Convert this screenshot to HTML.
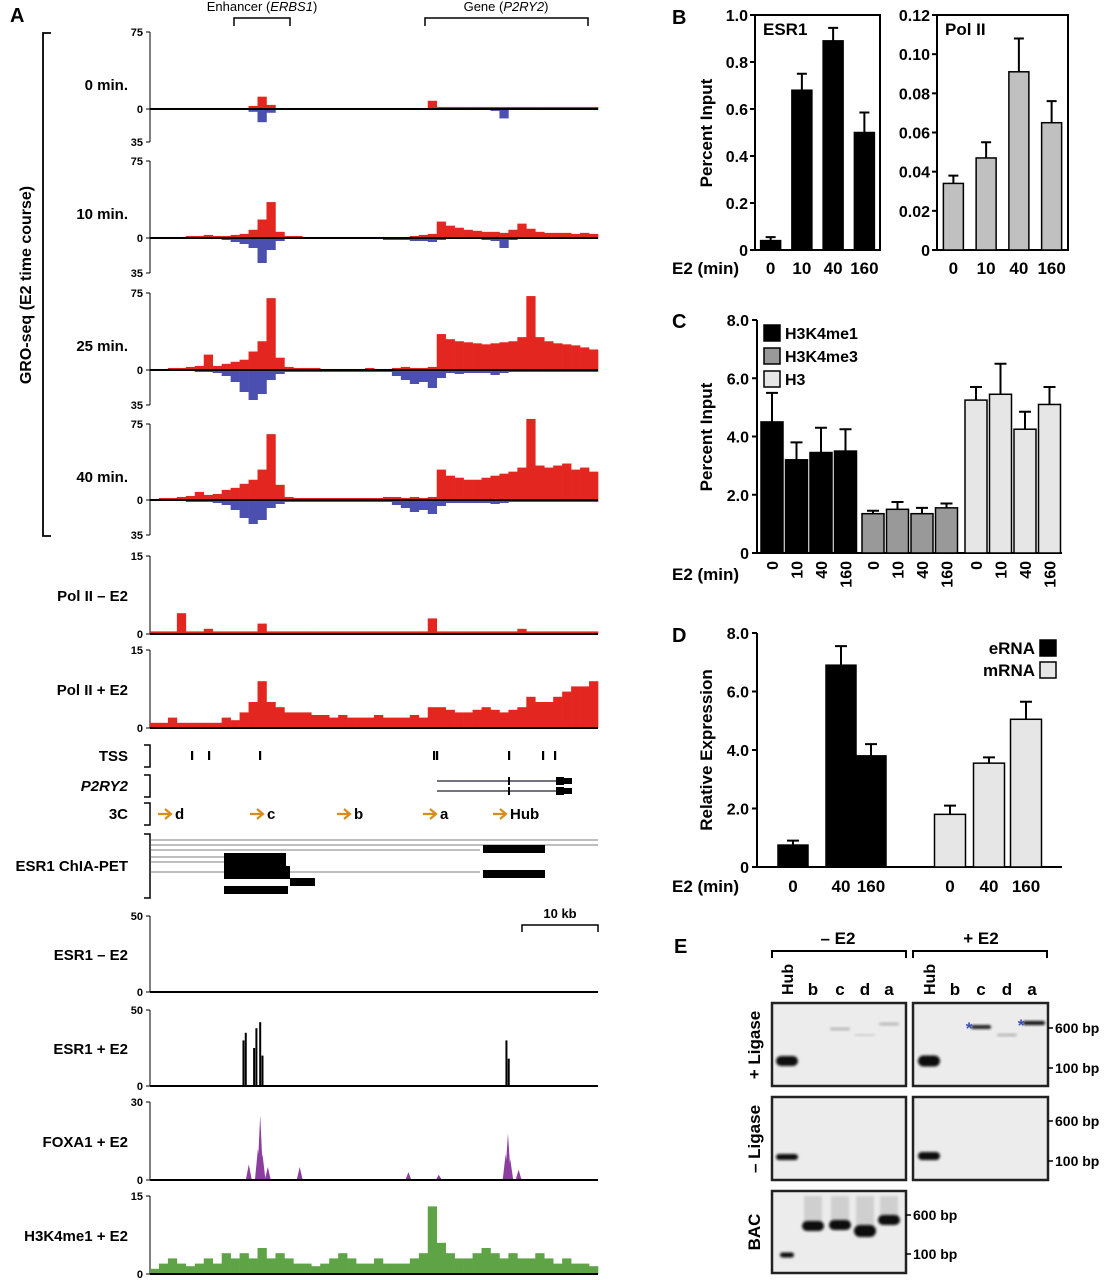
<!DOCTYPE html>
<html><head><meta charset="utf-8"><style>
body{margin:0;background:#fff}
svg{display:block;font-family:"Liberation Sans",Arial,sans-serif;font-weight:bold}
</style></head><body>
<svg id="fig" width="1104" height="1280" viewBox="0 0 1104 1280" xmlns="http://www.w3.org/2000/svg">
<defs><filter id="blur" x="-20%" y="-50%" width="140%" height="200%"><feGaussianBlur stdDeviation="1.2"/></filter></defs>
<g id="A"></g>
<g id="B"></g>
<g id="C"></g>
<g id="D"></g>
<g id="E"></g>
</svg>
<script>
// ---------- Panel A data (binned signal, 50 bins across locus) ----------
const gro0Pos=[1,1,1,1,1,1,1,1,1,1,1,3,12,4,1,1,1,1,1,1,1,1,1,1,1,1,1,1,1,1,1,8,2,2,2,2,2,2,2,2,2,2,2,2,2,2,2,2,2,2];
const gro0Neg=[0,0,0,0,0,0,0,0,0,0,0,3,14,4,0,0,0,0,0,0,0,0,0,0,0,0,0,0,0,0,0,1,1,1,1,1,1,1,2,10,1,1,1,1,1,1,1,1,1,1];
const gro10Pos=[1,1,1,1,2,2,3,2,2,3,4,8,18,35,6,2,2,1,1,1,1,1,1,1,1,1,1,1,1,2,3,4,16,12,10,8,7,6,6,5,8,14,9,6,5,5,5,4,5,4];
const gro10Neg=[0,0,0,1,1,1,1,1,2,4,6,10,25,12,3,1,1,1,1,1,1,1,1,1,1,1,2,2,2,3,3,4,2,1,1,1,1,2,3,10,2,1,1,1,1,1,1,1,1,1];
const gro25Pos=[1,1,2,2,3,4,15,4,6,8,10,18,28,70,12,3,2,2,2,1,1,1,1,1,2,1,1,2,3,2,2,3,35,30,28,27,26,25,26,27,28,32,72,32,28,26,25,24,22,20];
const gro25Neg=[1,1,1,1,1,2,2,3,6,12,22,30,24,10,4,2,2,2,2,2,2,2,2,2,2,2,2,6,10,14,12,18,8,3,4,3,3,3,5,3,2,2,2,2,2,2,2,2,2,2];
const gro40Pos=[1,2,2,3,4,8,5,6,10,12,16,20,30,65,15,3,2,2,2,2,2,2,2,2,2,2,3,3,2,3,2,3,30,24,22,20,20,22,24,26,28,32,80,34,32,34,36,30,32,28];
const gro40Neg=[1,1,1,1,2,2,2,3,5,10,18,24,20,8,4,2,2,2,2,2,2,2,2,2,2,2,2,5,8,12,10,14,6,3,3,3,3,3,4,3,2,2,2,2,2,2,2,2,2,2];
const polMinus=[0.5,0.5,0.5,4,0.5,0.5,1,0.5,0.5,0.5,0.5,0.5,2,0.5,0.5,0.5,0.5,0.5,0.5,0.5,0.5,0.5,0.5,0.5,0.5,0.5,0.5,0.5,0.5,0.5,0.5,3,0.5,0.5,0.5,0.5,0.5,0.5,0.5,0.5,0.5,1,0.5,0.5,0.5,0.5,0.5,0.5,0.5,0.5];
const polPlus=[1,1,2,1,1,1,1,1,2,1.5,3,5,9,5,4,3,3,3,2.5,2.5,2,2.5,2,2,2,2.5,2,2,2,2.5,2,4,4,3.5,3,3,3.5,4,3.5,3,3.5,4,6,5,5,6,7,8,8,9];
const h3k4Plus=[1,2,3,2,1.5,2,3,2,4,3,4,3,5,3,4,3,2,2,1.5,2,3,4,3,2,2,3,2,2,2,3,4,13,6,4,3,3,4,5,4,3,4,3,3,4,3,2,3,2,2,1.5];
const esr1MinusBins=[0.3,0.3,0.3,0.3,0.3,0.3,0.3,0.3,0.3,0.3,0.3,0.3,0.5,0.3,0.3,0.3,0.3,0.3,0.3,0.3,0.3,0.3,0.3,0.3,0.3,0.3,0.3,0.3,0.3,0.3,0.3,0.3,0.3,0.3,0.3,0.3,0.3,0.3,0.3,0.3,0.3,0.3,0.3,0.3,0.3,0.3,0.3,0.3,0.5,0.3];
// peak tracks: positions in kb, heights in track units
const esr1PeakKb=[12.3,12.6,13.7,14.0,14.5,14.8,46.9,47.2];
const esr1PeakVal=[30,35,25,38,42,20,30,18];
const foxaPeakKb=[13.0,14.2,14.5,14.8,15.5,19.7,34.0,38.0,46.8,47.1,47.4,48.5];
const foxaPeakVal=[6,12,25,10,5,5,3,2,10,18,8,4];
// ---------- Panel B ----------
const bCats=["0","10","40","160"];
const esr1Vals=[0.04,0.68,0.89,0.50];
const esr1Err=[0.015,0.07,0.055,0.085];
const polVals=[0.034,0.047,0.091,0.065];
const polErr=[0.004,0.008,0.017,0.011];
const esr1Ticks=["0","0.2","0.4","0.6","0.8","1.0"];
const polTicks=["0","0.02","0.04","0.06","0.08","0.10","0.12"];
// ---------- Panel C ----------
const cCats=["0","10","40","160"];
const cSeries=["H3K4me1","H3K4me3","H3"];
const h3k4me1Vals=[4.5,3.2,3.45,3.5];
const h3k4me1Err=[1.0,0.6,0.85,0.75];
const h3k4me3Vals=[1.35,1.5,1.35,1.55];
const h3k4me3Err=[0.1,0.25,0.2,0.15];
const h3Vals=[5.25,5.45,4.25,5.1];
const h3Err=[0.45,1.05,0.6,0.6];
const cdTicks=["0","2.0","4.0","6.0","8.0"];
// ---------- Panel D ----------
const dCats=["0","40","160"];
const ernaVals=[0.75,6.9,3.8];
const ernaErr=[0.15,0.65,0.4];
const mrnaVals=[1.8,3.55,5.05];
const mrnaErr=[0.3,0.2,0.6];

const NS="http://www.w3.org/2000/svg";
function mk(parent,tag,attrs,text){const e=document.createElementNS(NS,tag);for(const k in attrs)e.setAttribute(k,attrs[k]);if(text!==undefined)e.textContent=text;parent.appendChild(e);return e;}

// ================= Panel A =================
const A=document.getElementById('A');
const GX0=150,GX1=598,KB=7.6;
const gx=kb=>GX0+kb*KB;
let t;
t=mk(A,'text',{x:10,y:22,'font-size':20},'A');


t=mk(A,'text',{x:262,y:11,'font-size':13,'text-anchor':'middle','font-weight':'normal'},'');
t.innerHTML='Enhancer (<tspan font-style="italic">ERBS1</tspan>)';


t=mk(A,'path',{d:'M234 26V18H290V26',fill:'none',stroke:'#000','stroke-width':1.5});
t=mk(A,'text',{x:506,y:11,'font-size':13,'text-anchor':'middle','font-weight':'normal'},'');
t.innerHTML='Gene (<tspan font-style="italic">P2RY2</tspan>)';


mk(A,'path',{d:'M425 26V18H588V26',fill:'none',stroke:'#000','stroke-width':1.5});
mk(A,'path',{d:'M51 33H43V536H51',fill:'none',stroke:'#000','stroke-width':1.8});
t=mk(A,'text',{x:0,y:0,'font-size':16,'text-anchor':'middle',transform:'translate(31,285) rotate(-90)'},'GRO-seq (E2 time course)');



function axisTrack(label,top,base,bottom,maxTop,maxBot,labelY){
  mk(A,'line',{x1:GX0,y1:top,x2:GX0,y2:bottom,stroke:'#000','stroke-width':1});
  const ticks=[[top,maxTop],[base,'0']];
  if(maxBot!==null)ticks.push([bottom,maxBot]);
  ticks.forEach(([y,v])=>{mk(A,'line',{x1:GX0-4,y1:y,x2:GX0,y2:y,stroke:'#000'});mk(A,'text',{x:GX0-7,y:y+4,'font-size':11,'text-anchor':'end'},v);});
  const l=mk(A,'text',{x:128,y:labelY,'font-size':15,'text-anchor':'end'},label);
  
  
}
function binTrack(vals,max,base,h,dir,color){
  const bw=(GX1-GX0)/vals.length;
  vals.forEach((v,i)=>{
    const hh=v/max*h;
    const r=mk(A,'rect',{x:GX0+i*bw,y:dir>0?base-hh:base,width:bw+0.3,height:hh,fill:color});
    
    
  });
}
function baseline(y){mk(A,'line',{x1:GX0,y1:y,x2:GX1,y2:y,stroke:'#000','stroke-width':2});}

const RED='#e3261f',BLUE='#4b4fb0';
const gro=[["0 min.",32,109,142,gro0Pos,gro0Neg,90],["10 min.",161,238,273,gro10Pos,gro10Neg,219],["25 min.",293,370,405,gro25Pos,gro25Neg,351],["40 min.",424,500,535,gro40Pos,gro40Neg,482]];
gro.forEach(([lab,top,base,bot,pos,neg,ly])=>{
  axisTrack(lab,top,base,bot,'75','35',ly);
  binTrack(pos,75,base,base-top,1,RED);
  binTrack(neg,35,base,bot-base,-1,BLUE);
  baseline(base);
});
axisTrack('Pol II – E2',556,634,634,'15',null,601);
binTrack(polMinus,15,634,78,1,RED);baseline(634);
axisTrack('Pol II + E2',650,728,728,'15',null,695);
binTrack(polPlus,15,728,78,1,RED);baseline(728);

function bracket(y1,y2){mk(A,'path',{d:`M144 ${y1}H150V${y2}H144`,fill:'none',stroke:'#000','stroke-width':1.5});}
[['TSS',745,767,761],['P2RY2',775,797,791],['3C',803,825,819],['ESR1 ChIA-PET',834,898,871]].forEach(([l,a,b,ly])=>{
  bracket(a,b);
  const e=mk(A,'text',{x:128,y:ly,'font-size':15,'text-anchor':'end','font-style':l==='P2RY2'?'italic':'normal'},l);
  
  
});
[192,209,260,434,437,509,543,555].forEach(x=>mk(A,'rect',{x:x-1,y:751,width:2.2,height:9,fill:'#000'}));
[781,791].forEach(y=>{mk(A,'line',{x1:437,y1:y,x2:560,y2:y,stroke:'#223','stroke-width':1.2});mk(A,'rect',{x:556,y:y-4,width:8,height:8,fill:'#000'});mk(A,'rect',{x:564,y:y-3,width:8,height:6,fill:'#000'});mk(A,'rect',{x:508,y:y-4,width:2,height:8,fill:'#000'});});
[[158,'d'],[250,'c'],[337,'b'],[423,'a'],[493,'Hub']].forEach(([x,l])=>{
  mk(A,'path',{d:`M${x} 814H${x+12}M${x+7} 809L${x+13} 814L${x+7} 819`,fill:'none',stroke:'#d98b1c','stroke-width':2.2});
  const e=mk(A,'text',{x:x+17,y:819,'font-size':15},l);
  
  
});
[[840,150,598],[845,150,598],[850,150,480],[857,150,225],[862,150,225],[872,150,480]].forEach(([y,a,b])=>mk(A,'line',{x1:a,y1:y,x2:b,y2:y,stroke:'#555','stroke-width':0.8}));
[[224,853,62,13],[483,845,62,8],[224,866,66,13],[290,878,25,8],[224,886,61,8],[483,870,62,8],[282,886,6,8]].forEach(([x,y,w,h])=>mk(A,'rect',{x,y,width:w,height:h,fill:'#000'}));
mk(A,'path',{d:'M522 932V925H598V932',fill:'none',stroke:'#000','stroke-width':1.5});
mk(A,'text',{x:560,y:918,'font-size':13,'text-anchor':'middle'},'10 kb');

axisTrack('ESR1 – E2',916,992,992,'50',null,960);
binTrack(esr1MinusBins,50,992,76,1,'#000');baseline(992);
axisTrack('ESR1 + E2',1010,1086,1086,'50',null,1054);
esr1PeakKb.forEach((kb,i)=>{const h=esr1PeakVal[i]/50*76;const r=mk(A,'rect',{x:gx(kb)-1,y:1086-h,width:2,height:h,fill:'#000'});});
baseline(1086);
axisTrack('FOXA1 + E2',1102,1180,1180,'30',null,1147);
foxaPeakKb.forEach((kb,i)=>{const h=foxaPeakVal[i]/30*78;const x=gx(kb);const p=mk(A,'path',{d:`M${x-3} 1180L${x} ${1180-h}L${x+3} 1180Z`,fill:'#8b3e9e'});});
baseline(1180);
axisTrack('H3K4me1 + E2',1196,1274,1274,'15',null,1241);
binTrack(h3k4Plus,15,1274,78,1,'#5fa347');baseline(1274);

// ================= Panel B =================
const B=document.getElementById('B');
t=mk(B,'text',{x:672,y:24,'font-size':20},'B');


function barBox(g,x0,x1,yTop,yBot,ticks,max,vals,errs,fill,title,name){
  mk(g,'rect',{x:x0,y:yTop,width:x1-x0,height:yBot-yTop,fill:'none',stroke:'#000','stroke-width':2});
  const ys=v=>yBot-v/max*(yBot-yTop);
  ticks.forEach((tk,i)=>{const y=yBot-i/(ticks.length-1)*(yBot-yTop);mk(g,'line',{x1:x0-5,y1:y,x2:x0,y2:y,stroke:'#000','stroke-width':2});mk(g,'text',{x:x0-7,y:y+6,'font-size':16,'text-anchor':'end'},tk);});
  const step=(x1-x0)/4;
  vals.forEach((v,i)=>{
    const cx=x0+step*(i+0.5);
    const r=mk(g,'rect',{x:cx-10,y:ys(v),width:20,height:yBot-ys(v),fill,stroke:'#000','stroke-width':1.5});
    
    
    const ye=ys(v+errs[i]);
    mk(g,'path',{d:`M${cx} ${ys(v)}V${ye}M${cx-5} ${ye}H${cx+5}`,stroke:'#000','stroke-width':2,fill:'none'});
    mk(g,'text',{x:cx,y:274,'font-size':17,'text-anchor':'middle'},bCats[i]);
  });
  const tt=mk(g,'text',{x:x0+8,y:yTop+20,'font-size':17},title);
  
  
}
barBox(B,755,880,15,250,esr1Ticks,1.0,esr1Vals,esr1Err,'#000','ESR1','esr1');
barBox(B,937,1068,15,250,polTicks,0.12,polVals,polErr,'#c0c0c0','Pol II','pol2');
t=mk(B,'text',{x:0,y:0,'font-size':17,'text-anchor':'middle',transform:'translate(712,133) rotate(-90)'},'Percent Input');


t=mk(B,'text',{x:672,y:274,'font-size':17},'E2 (min)');



// ================= Panel C & D axes =================
function yAxis(g,x,y0,yTop,xEnd){
  mk(g,'path',{d:`M${x} ${yTop}V${y0}H${xEnd}`,fill:'none',stroke:'#000','stroke-width':2});
  cdTicks.forEach((tk,i)=>{const y=y0-i/(cdTicks.length-1)*(y0-yTop);mk(g,'line',{x1:x-5,y1:y,x2:x,y2:y,stroke:'#000','stroke-width':2});mk(g,'text',{x:x-8,y:y+6,'font-size':16,'text-anchor':'end'},tk);});
  return v=>y0-v/8*(y0-yTop);
}
function bar(g,cx,w,v,e,ys,y0,fill,name){
  const r=mk(g,'rect',{x:cx-w/2,y:ys(v),width:w,height:y0-ys(v),fill,stroke:'#000','stroke-width':1.5});
  
  
  const ye=ys(v+e);
  mk(g,'path',{d:`M${cx} ${ys(v)}V${ye}M${cx-6} ${ye}H${cx+6}`,stroke:'#000','stroke-width':2,fill:'none'});
}
const C=document.getElementById('C');
t=mk(C,'text',{x:672,y:328,'font-size':20},'C');


const ysC=yAxis(C,757,553,320,1062);
const cFills=['#000','#999','#e6e6e6'];
const cVals=[h3k4me1Vals,h3k4me3Vals,h3Vals];
const cErrs=[h3k4me1Err,h3k4me3Err,h3Err];
const cStarts=[772,873,976];
cVals.forEach((vals,s)=>vals.forEach((v,i)=>{
  const cx=cStarts[s]+i*24.5;
  bar(C,cx,22,v,cErrs[s][i],ysC,553,cFills[s],cSeries[s].toLowerCase()+'-bar-'+cCats[i]);
  mk(C,'text',{x:0,y:0,'font-size':16,'text-anchor':'end',transform:`translate(${cx+6},561) rotate(-90)`},cCats[i]);
}));
cSeries.forEach((s,i)=>{
  const y=325+i*23;
  const r=mk(C,'rect',{x:764,y,width:16,height:16,fill:cFills[i],stroke:'#000','stroke-width':1.5});
  
  
  const tx=mk(C,'text',{x:785,y:y+14,'font-size':16},s);
  
  
});
t=mk(C,'text',{x:0,y:0,'font-size':17,'text-anchor':'middle',transform:'translate(712,437) rotate(-90)'},'Percent Input');


t=mk(C,'text',{x:672,y:580,'font-size':17},'E2 (min)');



const D=document.getElementById('D');
t=mk(D,'text',{x:672,y:642,'font-size':20},'D');


const ysD=yAxis(D,757,867,633,1062);
const ernaX=[793,841,871],mrnaX=[950,989,1026];
ernaVals.forEach((v,i)=>{bar(D,ernaX[i],30,v,ernaErr[i],ysD,867,'#000','erna-bar-'+dCats[i]);mk(D,'text',{x:ernaX[i],y:892,'font-size':17,'text-anchor':'middle'},dCats[i]);});
mrnaVals.forEach((v,i)=>{bar(D,mrnaX[i],31,v,mrnaErr[i],ysD,867,'#e6e6e6','mrna-bar-'+dCats[i]);mk(D,'text',{x:mrnaX[i],y:892,'font-size':17,'text-anchor':'middle'},dCats[i]);});
[['eRNA','#000',640],['mRNA','#e6e6e6',662]].forEach(([l,f,y])=>{
  const r=mk(D,'rect',{x:1040,y,width:16,height:16,fill:f,stroke:'#000','stroke-width':1.5});
  
  
  const tx=mk(D,'text',{x:1035,y:y+14,'font-size':17,'text-anchor':'end'},l);
  
  
});
t=mk(D,'text',{x:0,y:0,'font-size':17,'text-anchor':'middle',transform:'translate(712,750) rotate(-90)'},'Relative Expression');


t=mk(D,'text',{x:672,y:892,'font-size':17},'E2 (min)');



// ================= Panel E (gels) =================
const E=document.getElementById('E');
t=mk(E,'text',{x:674,y:953,'font-size':20},'E');


[['– E2',838,772,906],['+ E2',981,913,1047]].forEach(([l,cx,a,b])=>{
  mk(E,'text',{x:cx,y:944,'font-size':17,'text-anchor':'middle'},l);
  mk(E,'path',{d:`M${a} 958V951H${b}V958`,fill:'none',stroke:'#000','stroke-width':2});
});
const lanesL=[787,813,840,865,889],lanesR=[929,955,981,1007,1032];
const laneNames=['Hub','b','c','d','a'];
[lanesL,lanesR].forEach(ls=>ls.forEach((x,i)=>{
  if(i===0)mk(E,'text',{x:0,y:0,'font-size':16,transform:`translate(${x+6},995) rotate(-90)`},'Hub');
  else mk(E,'text',{x,y:995,'font-size':17,'text-anchor':'middle'},laneNames[i]);
}));
function gel(x,y,w,h,name){const r=mk(E,'rect',{x,y,width:w,height:h,fill:'#ececec',stroke:'#222','stroke-width':2.5});}
gel(772,1003,134,83,'gel-plus-ligase-minus-e2');gel(913,1003,135,83,'gel-plus-ligase-plus-e2');
gel(772,1097,134,83,'gel-minus-ligase-minus-e2');gel(913,1097,135,83,'gel-minus-ligase-plus-e2');
gel(772,1191,134,82,'gel-bac');
function band(x,y,w,h,c){mk(E,'rect',{x:x-w/2,y:y-h/2,width:w,height:h,rx:h/2,fill:c,filter:'url(#blur)'});}
band(787,1061,22,10,'#111');band(840,1029,20,3,'#bbb');band(865,1035,20,2,'#ccc');band(889,1024,20,3,'#bbb');
band(929,1061,22,11,'#111');band(981,1027,20,4,'#222');band(1007,1035,20,3,'#bbb');band(1034,1023,22,4,'#111');
mk(E,'text',{x:969,y:1034,'font-size':17,fill:'#3a4fb0','text-anchor':'middle'},'*');
mk(E,'text',{x:1021,y:1031,'font-size':17,fill:'#3a4fb0','text-anchor':'middle'},'*');
band(787,1157,22,6,'#111');band(929,1156,22,8,'#111');
[[813,1226,10],[840,1225,10],[865,1231,12],[889,1220,10]].forEach(([x,y,h])=>{mk(E,'rect',{x:x-9,y:1196,width:18,height:y-1196,fill:'#cfcfcf',filter:'url(#blur)'});band(x,y,22,h,'#111');});
band(787,1255,14,5,'#111');
[[1048,1028,'600 bp'],[1048,1068,'100 bp'],[1048,1121,'600 bp'],[1048,1161,'100 bp'],[906,1215,'600 bp'],[906,1254,'100 bp']].forEach(([x,y,l])=>{
  mk(E,'line',{x1:x,y1:y,x2:x+5,y2:y,stroke:'#000','stroke-width':1.5});
  mk(E,'text',{x:x+7,y:y+5,'font-size':14},l);
});
[['+ Ligase',1045],['– Ligase',1139],['BAC',1232]].forEach(([l,cy])=>{
  const e=mk(E,'text',{x:0,y:0,'font-size':17,'text-anchor':'middle',transform:`translate(760,${cy}) rotate(-90)`},l);
  
  
});
</script>
</body></html>
